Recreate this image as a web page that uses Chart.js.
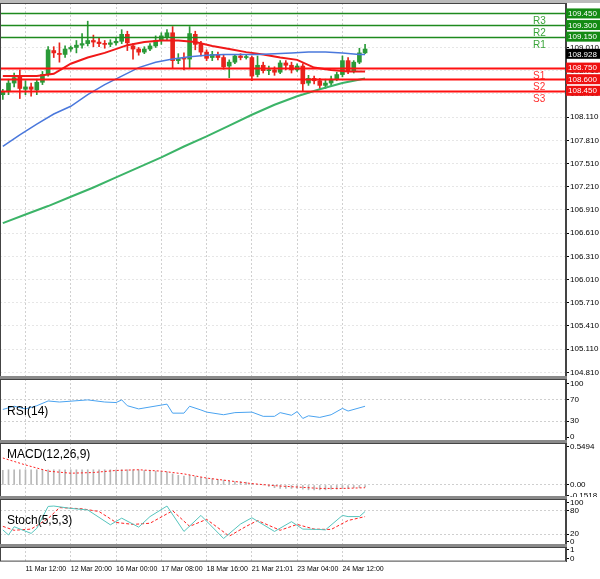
<!DOCTYPE html>
<html><head><meta charset="utf-8">
<script src="https://cdn.jsdelivr.net/npm/chart.js@4/dist/chart.umd.min.js"></script>
<style>
body{margin:0;background:#fff;width:600px;height:579px;position:relative;overflow:hidden;font-family:"Liberation Sans",Arial,sans-serif}
.p{position:absolute;left:0;width:600px}
.sep{position:absolute;left:0;width:567px;height:3px;background:#8a8a8a}
#topbar{position:absolute;left:0;top:0;width:600px;height:3px;background:#bbb}
</style></head><body>
<div id="topbar"></div>
<div class="p" style="top:3px;height:374px"><canvas id="main"></canvas></div>
<div class="p" style="top:379px;height:62px"><canvas id="rsi"></canvas></div>
<div class="p" style="top:443px;height:54px"><canvas id="macd"></canvas></div>
<div class="p" style="top:499px;height:46px"><canvas id="stoch"></canvas></div>
<div class="p" style="top:547px;height:29px"><canvas id="bot"></canvas></div>
<div class="sep" style="top:376px"></div>
<div class="sep" style="top:440px"></div>
<div class="sep" style="top:496px"></div>
<div class="sep" style="top:544px"></div>
<script>
// ---------- DATA ----------
const opens  = [108.40,108.45,108.55,108.63,108.47,108.50,108.46,108.56,108.66,108.97,108.93,108.92,108.99,109.01,109.04,109.06,109.10,109.08,109.06,109.05,109.07,109.09,109.18,109.03,108.99,108.95,108.99,109.03,109.10,109.15,109.20,108.84,108.87,108.86,109.18,109.05,108.95,108.88,108.92,108.88,108.77,108.82,108.90,108.88,108.88,108.66,108.78,108.71,108.72,108.69,108.81,108.78,108.72,108.77,108.55,108.61,108.58,108.52,108.55,108.60,108.66,108.84,108.71,108.82,108.94];
const closes = [108.44,108.55,108.62,108.48,108.50,108.47,108.56,108.66,108.98,108.94,108.92,108.99,109.01,109.04,109.06,109.10,109.08,109.06,109.05,109.07,109.09,109.18,109.07,108.99,108.95,108.99,109.03,109.10,109.16,109.20,108.84,108.87,108.86,109.19,109.05,108.95,108.87,108.92,108.88,108.76,108.82,108.90,108.88,108.89,108.64,108.78,108.71,108.72,108.69,108.81,108.78,108.72,108.77,108.54,108.61,108.58,108.52,108.55,108.60,108.66,108.84,108.71,108.82,108.94,108.99];
const highs  = [108.47,108.60,108.68,108.72,108.58,108.55,108.60,108.70,109.02,109.02,109.07,109.03,109.03,109.10,109.19,109.35,109.17,109.13,109.10,109.11,109.13,109.24,109.22,109.06,109.01,109.02,109.06,109.16,109.20,109.24,109.28,108.93,108.94,109.28,109.22,109.09,108.98,108.96,108.95,108.92,108.85,108.92,108.93,108.92,108.90,108.90,108.82,108.77,108.76,108.84,108.84,108.82,108.80,108.80,108.65,108.64,108.61,108.60,108.64,108.69,108.90,108.88,108.84,109.00,109.05];
const lows   = [108.34,108.40,108.50,108.35,108.40,108.38,108.40,108.53,108.64,108.88,108.82,108.88,108.96,108.94,109.00,109.03,109.02,109.02,109.00,109.02,109.04,109.06,108.97,108.86,108.91,108.93,108.97,109.01,109.05,109.10,108.74,108.80,108.72,108.75,108.98,108.90,108.84,108.84,108.85,108.73,108.62,108.80,108.85,108.86,108.58,108.63,108.68,108.66,108.65,108.67,108.72,108.68,108.70,108.44,108.52,108.54,108.48,108.48,108.52,108.58,108.63,108.67,108.68,108.80,108.93];
const maRed   = {0:108.64,3:108.64,6:108.64,9:108.67,12:108.80,15:108.88,18:108.94,22:109.04,25:109.08,28:109.10,31:109.10,34:109.08,37:109.03,40:108.99,43:108.95,46:108.92,49:108.88,52:108.85,55:108.75,58:108.72,61:108.70,64:108.70};
const maBlue  = {0:107.73,3:107.88,6:108.02,9:108.15,12:108.25,15:108.40,18:108.53,21:108.64,24:108.75,27:108.82,30:108.86,33:108.89,36:108.91,39:108.92,42:108.92,45:108.92,48:108.93,51:108.94,54:108.95,57:108.95,60:108.94,63:108.92,64:108.92};
const maGreen = {0:106.74,4:106.85,8:106.96,12:107.08,16:107.20,20:107.33,24:107.46,28:107.59,32:107.73,36:107.86,40:108.00,44:108.14,48:108.27,52:108.38,56:108.47,60:108.55,64:108.61};
const levels = [["R3",109.45],["R2",109.30],["R1",109.15],["S1",108.75],["S2",108.60],["S3",108.45]];
const lastPrice = 108.928;
const priceTicks = [104.81,105.11,105.41,105.71,106.01,106.31,106.61,106.91,107.21,107.51,107.81,108.11,108.41,108.71,109.01];
const rsi = {0:52,2:58,4:53,6:59,8:68,10:66,15:70,18:66,20:65,21:70,22:59,24:53,29:62,30:45,32:45,33:58,35:51,36:47,39:42,41:46,44:47,46:39,48:39,49:46,51:41,52:48,53:35,54:40,56:37,58:42,60:54,61:49,64:58};
const macdHist = [0.21,0.22,0.22,0.22,0.22,0.22,0.22,0.22,0.22,0.22,0.22,0.22,0.22,0.22,0.22,0.22,0.22,0.22,0.22,0.22,0.22,0.22,0.22,0.22,0.22,0.21,0.21,0.20,0.20,0.19,0.16,0.14,0.13,0.14,0.12,0.11,0.10,0.09,0.08,0.07,0.06,0.05,0.05,0.04,0.02,0.01,0.00,-0.02,-0.04,-0.05,-0.05,-0.05,-0.05,-0.06,-0.07,-0.07,-0.07,-0.07,-0.06,-0.06,-0.05,-0.05,-0.04,-0.04,-0.03];
const macdSignal = {0:0.39,4:0.29,8:0.20,12:0.17,16:0.18,20:0.21,24:0.22,28:0.20,32:0.16,36:0.10,40:0.06,44:0.02,48:-0.01,52:-0.03,56:-0.05,60:-0.05,64:-0.04};
const stochMain = {0:31,1:18,2:39,5:22,6:35,8:91,9:92,12:86,15:82,19:44,21:61,24:38,26:65,29:92,32:27,35:68,39:9,42:46,44:62,48:27,51:52,53:33,56:32,57:31,60:68,61:65,63:65,64:78};
const stochSignal = {0:40,2:30,5:33,8:60,10:88,14:85,17:78,20:50,23:45,26:48,30:80,33:40,36:58,40:15,43:40,45:55,49:30,52:45,55:33,58:32,61:55,64:65};
const xTickLabels = {4:"11 Mar 12:00",12:"12 Mar 20:00",20:"16 Mar 00:00",28:"17 Mar 08:00",36:"18 Mar 16:00",44:"21 Mar 21:01",52:"23 Mar 04:00",60:"24 Mar 12:00"};
// ---------- BUILD ----------
const N = 100;
const cats = Array.from({length:N},(_,i)=>String(i));
const sparse = o => cats.map((_,i)=> o[i]!==undefined ? o[i] : null);
const pad = a => cats.map((_,i)=> i<a.length ? a[i] : null);
const up = opens.map((o,i)=>closes[i]>=o);
const GREEN='#2a9a38', RED='#e8231c';
const FONT = {family:'"Liberation Sans",Arial,sans-serif', size:8};

function xScale(show){
  return {type:'category', offset:true, display:true,
    afterFit:s=>{ if(!show) s.height=0; s.paddingLeft=0; s.paddingRight=0; },
    grid:{offset:false, drawTicks:false, color:c=> xTickLabels[c.index]?'#d0d0d0':'transparent'},
    border:{display:false, dash:[2,2]},
    ticks:{display:show, autoSkip:false, maxRotation:0, align:'start', padding:3, font:{...FONT,size:7}, color:'#000',
      callback:(v,i)=> xTickLabels[i]||''}};
}
function yScale(min,max,ticks,fmt,gridFn){
  return {position:'right', min, max,
    afterFit:s=>{s.width=34; s.paddingTop=0; s.paddingBottom=0;},
    afterBuildTicks:s=>{s.ticks=ticks.map(v=>({value:v}));},
    grid:{color:gridFn||'#e6e6e6', drawTicks:true, tickLength:3, tickColor:'#000'},
    border:{display:true,color:'#444',dash:[2,2]},
    ticks:{font:FONT, color:'#000', padding:1, autoSkip:false, callback:fmt}};
}
const framePlugin = {id:'frame', afterDraw(c){
  const a=c.chartArea, x=c.ctx; x.save();
  x.strokeStyle='#444'; x.lineWidth=1; x.strokeRect(a.left+0.5,a.top+0.5,a.right-a.left-1,a.bottom-a.top-1);
  x.restore();}};
function label(text,yy){return {id:'lbl'+text, afterDraw(c){const x=c.ctx;x.save();x.font='12px "Liberation Sans",Arial';x.fillStyle='#000';x.textBaseline='middle';x.fillText(text,7,yy);x.restore();}};}
const baseOpts = {responsive:true, maintainAspectRatio:false, animation:false,
  layout:{padding:0}, plugins:{legend:{display:false}, tooltip:{enabled:false}}};

// main
const levelPlugin = {id:'levels', afterDatasetsDraw(c){
  const y=c.scales.y, a=c.chartArea, x=c.ctx; x.save();
  levels.forEach(([n,v])=>{
    const col = n[0]==='R' ? '#1e8a1e' : '#ff1010';
    const py = Math.round(y.getPixelForValue(v))+0.5;
    x.strokeStyle=col; x.lineWidth = n[0]==='R'?1.5:2;
    x.beginPath(); x.moveTo(a.left,py); x.lineTo(a.right,py); x.stroke();
    x.font='10px "Liberation Sans",Arial'; x.fillStyle= n[0]==='R' ? '#3aa53a' : '#ff3030';
    x.textBaseline='top'; x.fillText(n,533,py+3);
  });
  x.restore();},
  afterDraw(c){
    const y=c.scales.y, x=c.ctx; x.save(); x.font='8px "Liberation Sans",Arial'; x.textBaseline='middle';
    const box=(v,bg)=>{const py=y.getPixelForValue(v); x.fillStyle=bg; x.fillRect(566,py-5,34,10); x.fillStyle='#fff'; x.fillText(v.toFixed(3),568,py+0.5);};
    levels.forEach(([n,v])=>box(v, n[0]==='R'?'#138a13':'#ee1010'));
    box(lastPrice,'#000');
    x.restore();}};
new Chart(document.getElementById('main'),{type:'bar',
  data:{labels:cats, datasets:[
    {type:'line',data:sparse(maBlue),borderColor:'#4a78dc',borderWidth:1.5,pointRadius:0,spanGaps:true,order:-2},
    {type:'line',data:sparse(maRed),borderColor:'#f01818',borderWidth:2,pointRadius:0,spanGaps:true,order:-2},
    {type:'line',data:sparse(maGreen),borderColor:'#3cb468',borderWidth:2,pointRadius:0,spanGaps:true,order:-2},
    {data:pad(opens.map((o,i)=>[lows[i],highs[i]])),backgroundColor:pad(up.map(u=>u?GREEN:RED)),barThickness:1,grouped:false,order:2},
    {data:pad(opens.map((o,i)=>[o,closes[i]])),backgroundColor:pad(up.map(u=>u?GREEN:RED)),barThickness:4,minBarLength:1,grouped:false,order:1}
  ]},
  options:{...baseOpts, scales:{x:xScale(false), y:yScale(104.75,109.585,priceTicks,v=>v.toFixed(3))}},
  plugins:[framePlugin,levelPlugin]});

const lvlGrid = vals => c => vals.includes(c.tick.value)?'#cfcfcf':'transparent';
// RSI
new Chart(document.getElementById('rsi'),{type:'line',
  data:{labels:cats,datasets:[{data:sparse(rsi),borderColor:'#4aa3f0',borderWidth:1,pointRadius:0,spanGaps:true}]},
  options:{...baseOpts, scales:{x:xScale(false), y:yScale(-7.5,109.4,[0,30,70,100],v=>String(v),lvlGrid([30,70]))}},
  plugins:[framePlugin,label('RSI(14)',33)]});

// MACD
new Chart(document.getElementById('macd'),{type:'bar',
  data:{labels:cats,datasets:[
    {type:'line',data:sparse(macdSignal),borderColor:'#ff2020',borderWidth:1,borderDash:[2,2],pointRadius:0,spanGaps:true,order:-1},
    {data:pad(macdHist),backgroundColor:'#b8b8b8',barThickness:1,order:1}]},
  options:{...baseOpts, scales:{x:xScale(false), y:yScale(-0.174,0.607,[-0.1518,0,0.5494],v=>v===0?'0.00':String(v),lvlGrid([0]))}},
  plugins:[framePlugin,label('MACD(12,26,9)',12)]});

// Stoch
new Chart(document.getElementById('stoch'),{type:'line',
  data:{labels:cats,datasets:[
    {data:sparse(stochMain),borderColor:'#56c4bd',borderWidth:1,pointRadius:0,spanGaps:true},
    {data:sparse(stochSignal),borderColor:'#ff2020',borderWidth:1,borderDash:[3,2],pointRadius:0,spanGaps:true}]},
  options:{...baseOpts, scales:{x:xScale(false), y:yScale(-7.7,110,[0,20,80,100],v=>String(v),lvlGrid([20,80]))}},
  plugins:[framePlugin,label('Stoch(5,5,3)',22)]});

// bottom empty panel with time axis
new Chart(document.getElementById('bot'),{type:'line',
  data:{labels:cats,datasets:[{data:[]}]},
  options:{...baseOpts, scales:{x:xScale(true), y:yScale(-0.3,1.3,[0,1],v=>String(v),()=> 'transparent')}},
  plugins:[framePlugin]});
</script>
</body></html>
